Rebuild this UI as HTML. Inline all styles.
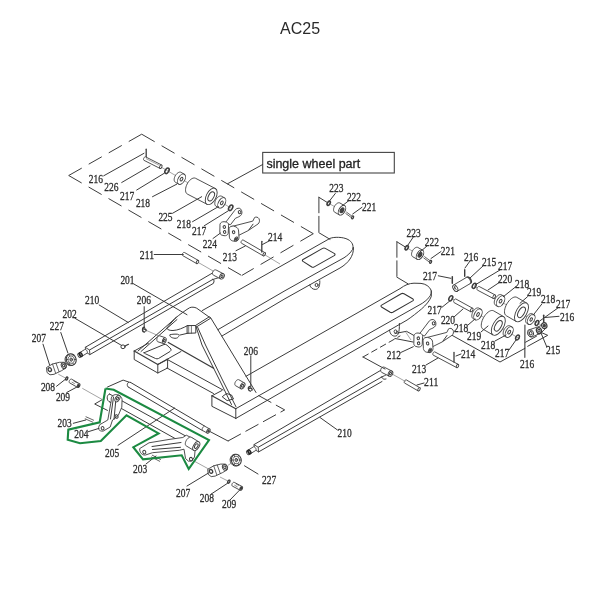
<!DOCTYPE html>
<html><head><meta charset="utf-8"><style>
html,body{margin:0;padding:0;background:#fff;}
svg{display:block;will-change:transform;filter:blur(0.3px);}
.l{fill:none;stroke:#3c3c3c;stroke-width:1;stroke-linecap:round;stroke-linejoin:round;}
.t{fill:none;stroke:#666;stroke-width:0.6;}
.d{fill:none;stroke:#3c3c3c;stroke-width:1;stroke-dasharray:15 8;}
.n{font-family:"Liberation Serif",serif;font-size:11.8px;fill:#2e2e2e;stroke:#2e2e2e;stroke-width:0.3;}
.p{fill:#fff;stroke:#3c3c3c;stroke-width:0.9;stroke-linejoin:round;}
.k{fill:#333;stroke:none;}
.g{fill:none;stroke:#1c8a42;stroke-width:2.1;stroke-linejoin:miter;}
</style></head><body>
<svg width="600" height="600" viewBox="0 0 600 600">
<rect width="600" height="600" fill="#fff"/>
<text x="280" y="34.3" font-family="Liberation Sans" font-size="16" fill="#2a2a2a">AC25</text>
<g class="d"><line x1="68.7" y1="175.5" x2="141.7" y2="134.2"/><line x1="141.7" y1="134.2" x2="313.3" y2="233.7"/><line x1="313.3" y1="233.7" x2="241.7" y2="275.5"/><line x1="68.7" y1="175.5" x2="241.7" y2="275.5"/></g>
<rect x="262.7" y="152.4" width="131.6" height="20.6" fill="#fff" stroke="#444" stroke-width="1.1"/>
<text x="266.4" y="167.6" font-family="Liberation Sans" font-size="12.5" fill="#222" stroke="#222" stroke-width="0.3">single wheel part</text>
<path class="l" d="M262.70,164.50 L227.50,183.80" />
<path class="l" d="M202.2,310.6 L330,238.39 C334,236.8 343,236.8 348,239.5 C352,241.6 354,245.5 352.5,249.5 C350.5,253 347.5,255.5 344,257.8 L325,268.3 L285,290.7 L218,329.6" />
<path class="l" d="M353.5,247.5 C353.8,256 348.5,263 340,268 L325,276.3 L285,298.7 L222,336" />
<path class="l" d="M302.6,259.8 L322.6,248.4 Q324,247.7 325.3,248.4 L334.6,253.6 Q335.6,254.6 334.2,255.6 L314.3,266.9 Q313,267.7 311.8,267 L303,261.4 Q302,260.6 302.6,259.8 Z" style="stroke-width:1.05;stroke:#333"/>
<path class="l" d="M309.7,285 C310.5,288 313,289.6 315.8,289.4 C318.5,289 320,286.5 319.8,280.8" />
<ellipse class="l" cx="316.60" cy="285.00" rx="1.50" ry="1.60" transform="rotate(0.0 316.60 285.00)" />
<path class="l" d="M246,376.28 L400,288.65 C405,285 409,283.3 414,283.2 L421,283.4 C425.5,283.8 429.5,286.5 431,290 C431.8,292.5 431,295 429,297.5 C427,299.8 425,301.5 422.3,303.3 L235.8,408.7" />
<path class="l" d="M431.3,291 L431.3,296.5 C429.5,301 426,305 421.5,309 C417.5,312.3 412,316.8 407,320.1 L235.8,418.4" />
<path class="l" d="M381.2,305.4 L401.2,293.8 Q402.6,293 404,293.8 L413,299 Q414,300 412.7,300.9 L392.8,312.3 Q391.5,313 390.2,312.3 L381.5,307 Q380.6,306.2 381.2,305.4 Z" style="stroke-width:1.05;stroke:#333"/>
<path class="l" d="M389.5,330.11 C390,334.5 392.5,336.3 395.3,336.1 C398,335.8 399.6,333 399.4,323.43" />
<ellipse class="l" cx="395.60" cy="331.50" rx="1.50" ry="1.60" transform="rotate(0.0 395.60 331.50)" />
<path class="l" d="M196.00,326.50 L202.00,345.00 L219.50,380.00 L231.50,404.50" />
<path class="l" d="M197.60,327.20 L205.50,345.00 L222.50,380.00 L236.00,406.80" />
<path class="l" d="M210.50,317.50 L256.00,392.50" />
<path class="l" d="M195.8,325.3 L209.3,316.8 M196.3,327 L210.5,318.3" style="stroke-width:1.0"/>
<path class="l" d="M166.7,328.3 L175,318.3 C180,314.5 185,310.5 189.5,307.8 C191.5,306.8 194.5,307 196.7,308.2 L209.5,317.3" />
<path class="l" d="M166.7,328.3 C167.5,330 170,330.6 173,330.5 C178,330.3 183,328 187.5,325.6" />
<path class="l" d="M187.5,325.6 L195.8,325.5 L195.8,333 L187.5,333.3 Z" />
<path class="l" d="M191.4,325.6 L191.4,333.2 M188.7,325.7 L188.7,333.3" style="stroke-width:0.7"/>
<path class="l" d="M187.5,333.3 L179.3,335.2 L177.4,334.2 C174,334 171.5,334.3 169.8,334.8 C169.5,336.5 171.5,338 175,338.3 C177,338.4 178,337.6 178.6,336.6" />
<path class="l" d="M176.30,317.50 L138.00,351.00" />
<path class="l" d="M177.00,319.50 L141.00,351.50" />
<path class="p" d="M159.76,335.85 L159.45,335.80 L159.12,335.84 L158.78,335.97 L158.44,336.18 L158.11,336.48 L157.80,336.84 L157.52,337.27 L157.28,337.74 L157.09,338.24 L156.95,338.76 L156.86,339.28 L156.84,339.79 L156.87,340.27 L156.96,340.70 L157.11,341.07 L157.31,341.38 L157.55,341.60 L157.84,341.75 L163.34,343.55 L165.26,337.65 Z" />
<ellipse class="p" cx="164.30" cy="340.60" rx="1.80" ry="3.10" transform="rotate(18.1 164.30 340.60)" />
<ellipse class="l" cx="164.30" cy="340.60" rx="0.81" ry="1.40" transform="rotate(18.1 164.30 340.60)" />
<path class="t" d="M146.30,330.40 L158.50,335.80" />
<path class="l" d="M134.20,351.00 L134.20,359.50 L157.80,373.00 L167.60,368.00 L167.60,359.30" />
<path class="l" d="M134.2,351 L157.8,364.5 L167.6,359.3" style="stroke-width:1.2"/>
<path class="l" d="M157.80,364.50 L157.80,373.00" />
<path class="l" d="M134.20,351.00 L148.50,343.20" />
<path class="l" d="M144,352.8 L164,344.5 Q166,344 167,345.2 L171,349 Q171.5,350.4 170,351.5 L158.5,358.5 Q157,359.2 155.5,358.5 L145.5,353.8 Q144,353.3 144,352.8 Z" />
<path class="l" d="M157.80,364.50 L181.00,351.50" />
<path class="l" d="M168.3,342.5 L213.6,368.3" style="stroke-width:1.3;stroke:#3a3a3a"/>
<path class="l" d="M167.00,359.30 L223.00,390.00" />
<path class="l" d="M167.00,368.00 L213.50,393.50" />
<path class="l" d="M211.90,395.80 L211.90,406.30 L235.80,418.40" />
<path class="l" d="M211.9,395.8 L235.8,408.7" style="stroke-width:1.2"/>
<path class="l" d="M235.80,408.70 L235.80,418.60" />
<path class="l" d="M211.90,395.80 L221.80,390.60" />
<path class="l" d="M222.5,396.5 L226.5,393.5 L231.5,395 L233.5,399 L227.5,400.5 Z" />
<path class="p" d="M238.89,379.75 L238.57,379.63 L238.21,379.59 L237.81,379.66 L237.40,379.81 L236.98,380.05 L236.57,380.38 L236.17,380.77 L235.81,381.22 L235.49,381.72 L235.22,382.25 L235.01,382.79 L234.87,383.32 L234.80,383.84 L234.80,384.33 L234.88,384.76 L235.02,385.14 L235.24,385.43 L235.51,385.65 L240.91,388.75 L244.29,382.85 Z" />
<ellipse class="p" cx="242.60" cy="385.80" rx="1.97" ry="3.40" transform="rotate(29.9 242.60 385.80)" />
<ellipse class="l" cx="242.60" cy="385.80" rx="0.93" ry="1.60" transform="rotate(29.9 242.60 385.80)" />
<path class="l" d="M250,386.3 C247.5,386.8 247.8,390.8 250.5,391.2 M249.5,388.3 C251.5,387.6 252.8,389.4 251.8,390.3" style="stroke-width:1.3"/>
<path class="l" d="M144.5,327.3 C142,327.5 141.8,331.8 144.5,332 M144.2,329.2 C145.5,328.6 146.8,330 145.8,331" style="stroke-width:1.4"/>
<path class="l" d="M258.70,395.60 L284.70,409.90 L228.00,441.00" style="stroke-dasharray:14 6"/>
<path class="l" d="M208.00,430.50 L228.00,441.00" />
<path class="l" d="M85.30,347.30 L213.70,272.30" />
<path class="l" d="M89.50,350.00 L212.30,279.70" />
<path class="l" d="M89.90,354.60 L213.20,283.50" />
<path class="l" d="M212.3,279.7 C214.5,279 217,278 220.3,277.3 M213.5,283 C214.5,281.5 214.3,279.8 213,279.2" />
<path class="p" d="M216.13,270.02 L215.77,269.89 L215.38,269.84 L214.98,269.87 L214.57,269.99 L214.17,270.18 L213.79,270.45 L213.44,270.78 L213.13,271.17 L212.87,271.61 L212.66,272.07 L212.53,272.55 L212.46,273.03 L212.47,273.50 L212.54,273.94 L212.68,274.34 L212.89,274.68 L213.16,274.97 L213.47,275.18 L220.67,278.88 L223.33,273.72 Z" />
<ellipse class="p" cx="222.00" cy="276.30" rx="2.17" ry="2.90" transform="rotate(27.2 222.00 276.30)" />
<ellipse class="l" cx="222.00" cy="276.30" rx="0.97" ry="1.30" transform="rotate(27.2 222.00 276.30)" />
<path class="p" d="M85.3,347.3 L89.5,350 L89.9,354.6 L85.75,352.1 Z" />
<path class="p" d="M86.93,353.23 L87.10,353.09 L87.23,352.89 L87.33,352.65 L87.37,352.37 L87.37,352.06 L87.31,351.73 L87.22,351.39 L87.08,351.05 L86.90,350.72 L86.69,350.42 L86.45,350.14 L86.19,349.90 L85.92,349.71 L85.64,349.56 L85.37,349.48 L85.12,349.45 L84.88,349.48 L84.67,349.57 L78.17,353.57 L80.43,357.23 Z" />
<ellipse class="p" cx="79.30" cy="355.40" rx="1.29" ry="2.15" transform="rotate(148.4 79.30 355.40)" />
<ellipse class="l" cx="80.70" cy="354.60" rx="1.22" ry="2.10" transform="rotate(150.0 80.70 354.60)" style="stroke-width:1.5;stroke:#222"/>
<path class="l" d="M254.00,444.60 L382.50,369.30" />
<path class="l" d="M258.20,447.30 L381.70,377.00" />
<path class="l" d="M258.60,451.90 L382.00,381.50" />
<path class="l" d="M381.7,377 C383.5,376.3 385.5,375.2 387,374.3 M386,379 C382.5,380 382.5,377.8 381.7,377" />
<path class="p" d="M384.31,367.21 L383.95,367.08 L383.57,367.03 L383.17,367.07 L382.76,367.19 L382.36,367.38 L381.98,367.66 L381.63,367.99 L381.32,368.38 L381.06,368.82 L380.86,369.28 L380.73,369.76 L380.66,370.24 L380.67,370.71 L380.75,371.15 L380.89,371.55 L381.10,371.89 L381.37,372.18 L381.69,372.39 L389.19,376.19 L391.81,371.01 Z" />
<ellipse class="p" cx="390.50" cy="373.60" rx="2.17" ry="2.90" transform="rotate(26.9 390.50 373.60)" />
<ellipse class="l" cx="390.50" cy="373.60" rx="0.97" ry="1.30" transform="rotate(26.9 390.50 373.60)" />
<path class="p" d="M254.0,444.6 L258.2,447.3 L258.6,451.90000000000003 L254.45,449.40000000000003 Z" />
<path class="p" d="M255.63,450.53 L255.80,450.39 L255.93,450.19 L256.03,449.95 L256.07,449.67 L256.07,449.36 L256.01,449.03 L255.92,448.69 L255.78,448.35 L255.60,448.02 L255.39,447.72 L255.15,447.44 L254.89,447.20 L254.62,447.01 L254.34,446.86 L254.07,446.78 L253.82,446.75 L253.58,446.78 L253.37,446.87 L246.87,450.87 L249.13,454.53 Z" />
<ellipse class="p" cx="248.00" cy="452.70" rx="1.29" ry="2.15" transform="rotate(148.4 248.00 452.70)" />
<ellipse class="l" cx="249.40" cy="451.90" rx="1.22" ry="2.10" transform="rotate(150.0 249.40 451.90)" style="stroke-width:1.5;stroke:#222"/>
<path class="t" d="M161.00,167.00 L231.00,208.00" />
<path class="l" d="M146.20,149.20 L146.20,158.00" style="stroke-width:1.3"/>
<path class="p" d="M145.66,156.90 L145.47,156.84 L145.27,156.84 L145.05,156.88 L144.83,156.98 L144.60,157.13 L144.38,157.32 L144.17,157.55 L143.98,157.82 L143.82,158.10 L143.68,158.40 L143.58,158.71 L143.52,159.02 L143.50,159.31 L143.51,159.58 L143.57,159.82 L143.66,160.02 L143.78,160.18 L143.94,160.30 L159.94,168.40 L161.66,165.00 Z" />
<ellipse class="p" cx="160.80" cy="166.70" rx="1.10" ry="1.90" transform="rotate(26.9 160.80 166.70)" />
<path class="t" d="M146.00,158.60 L159.50,165.40" />
<ellipse class="l" cx="167.00" cy="170.80" rx="1.74" ry="3.00" transform="rotate(30.0 167.00 170.80)" style="stroke-width:1.6"/>
<path class="p" d="M181.04,172.36 L180.50,172.15 L179.89,172.09 L179.23,172.20 L178.54,172.46 L177.83,172.86 L177.14,173.40 L176.48,174.06 L175.87,174.82 L175.33,175.65 L174.88,176.53 L174.53,177.44 L174.30,178.34 L174.18,179.21 L174.18,180.02 L174.30,180.75 L174.55,181.38 L174.90,181.88 L175.36,182.24 L178.66,184.14 L184.34,174.26 Z" />
<ellipse class="p" cx="181.50" cy="179.20" rx="3.31" ry="5.70" transform="rotate(29.9 181.50 179.20)" />
<ellipse class="l" cx="181.50" cy="179.20" rx="1.16" ry="2.00" transform="rotate(29.9 181.50 179.20)" />
<path class="p" d="M195.59,178.30 L194.78,178.03 L193.86,178.00 L192.87,178.23 L191.84,178.70 L190.80,179.40 L189.78,180.30 L188.81,181.38 L187.93,182.61 L187.15,183.95 L186.51,185.36 L186.02,186.79 L185.69,188.20 L185.54,189.56 L185.57,190.81 L185.78,191.92 L186.17,192.86 L186.72,193.59 L187.41,194.10 L207.11,204.30 L215.29,188.50 Z" />
<ellipse class="p" cx="211.20" cy="196.40" rx="4.90" ry="8.90" transform="rotate(27.4 211.20 196.40)" />
<ellipse class="l" cx="211.20" cy="196.40" rx="2.70" ry="4.90" transform="rotate(27.4 211.20 196.40)" />
<path class="p" d="M221.61,196.24 L221.07,196.03 L220.46,195.98 L219.80,196.09 L219.10,196.35 L218.40,196.76 L217.71,197.31 L217.06,197.97 L216.46,198.73 L215.92,199.57 L215.48,200.46 L215.14,201.36 L214.90,202.27 L214.79,203.14 L214.80,203.95 L214.93,204.68 L215.18,205.30 L215.53,205.80 L215.99,206.16 L218.99,207.86 L224.61,197.94 Z" />
<ellipse class="p" cx="221.80" cy="202.90" rx="3.31" ry="5.70" transform="rotate(29.5 221.80 202.90)" />
<ellipse class="l" cx="221.80" cy="202.90" rx="1.16" ry="2.00" transform="rotate(29.5 221.80 202.90)" />
<ellipse class="l" cx="230.70" cy="207.80" rx="1.74" ry="3.00" transform="rotate(30.0 230.70 207.80)" style="stroke-width:1.6"/>
<path class="p" d="M243.20,240.04 L243.03,239.98 L242.84,239.96 L242.63,239.99 L242.41,240.07 L242.19,240.20 L241.97,240.37 L241.76,240.58 L241.57,240.81 L241.40,241.08 L241.25,241.35 L241.14,241.64 L241.07,241.92 L241.03,242.20 L241.03,242.46 L241.07,242.69 L241.14,242.88 L241.25,243.04 L241.40,243.16 L263.30,255.86 L265.10,252.74 Z" />
<ellipse class="p" cx="264.20" cy="254.30" rx="1.04" ry="1.80" transform="rotate(30.1 264.20 254.30)" />
<path class="l" d="M261.80,241.30 L261.80,252.00" style="stroke-width:1.3"/>
<path class="t" d="M264.50,254.60 L280.00,264.00" />
<path class="p" d="M184.39,252.44 L184.22,252.37 L184.03,252.35 L183.82,252.39 L183.60,252.47 L183.38,252.60 L183.16,252.77 L182.95,252.98 L182.76,253.22 L182.59,253.48 L182.45,253.76 L182.34,254.05 L182.27,254.33 L182.23,254.61 L182.23,254.86 L182.27,255.09 L182.35,255.29 L182.46,255.45 L182.61,255.56 L196.61,263.56 L198.39,260.44 Z" />
<ellipse class="p" cx="197.50" cy="262.00" rx="1.04" ry="1.80" transform="rotate(29.7 197.50 262.00)" />
<path class="t" d="M198.00,262.30 L213.80,271.40" />
<path class="p" d="M406.40,379.94 L406.23,379.87 L406.04,379.86 L405.83,379.89 L405.61,379.97 L405.39,380.10 L405.17,380.27 L404.96,380.48 L404.77,380.72 L404.60,380.98 L404.45,381.26 L404.34,381.54 L404.27,381.83 L404.23,382.10 L404.23,382.36 L404.27,382.59 L404.34,382.79 L404.46,382.94 L404.60,383.06 L418.10,390.86 L419.90,387.74 Z" />
<ellipse class="p" cx="419.00" cy="389.30" rx="1.04" ry="1.80" transform="rotate(30.0 419.00 389.30)" />
<path class="t" d="M393.00,374.50 L405.50,381.50" />
<path class="l" d="M318.90,197.30 L318.90,232.70" style="stroke-dasharray:15.5 3.5"/>
<path class="l" d="M318.90,232.70 L330.00,239.30" />
<path class="l" d="M318.90,197.30 L327.00,202.30" />
<path class="t" d="M330.00,204.00 L337.00,208.00" />
<ellipse class="l" cx="328.70" cy="203.30" rx="1.33" ry="2.30" transform="rotate(30.0 328.70 203.30)" style="stroke-width:1.6"/>
<path class="p" d="M339.94,203.00 L339.44,202.81 L338.87,202.76 L338.25,202.85 L337.61,203.10 L336.96,203.47 L336.31,203.98 L335.70,204.59 L335.13,205.29 L334.63,206.07 L334.22,206.89 L333.89,207.73 L333.67,208.57 L333.56,209.38 L333.56,210.14 L333.68,210.81 L333.91,211.39 L334.24,211.86 L334.66,212.20 L339.36,214.90 L344.64,205.70 Z" />
<ellipse class="p" cx="342.00" cy="210.30" rx="3.07" ry="5.30" transform="rotate(29.9 342.00 210.30)" />
<ellipse class="l" cx="342.00" cy="210.30" rx="1.57" ry="2.70" transform="rotate(29.9 342.00 210.30)" />
<ellipse class="l" cx="342.00" cy="210.30" rx="0.99" ry="1.70" transform="rotate(30.0 342.00 210.30)" style="stroke-width:1.5;fill:#666"/>
<path class="l" d="M346.6,212.2 L352.3,216.4 M345.8,213.5 L351.5,217.7" style="stroke-width:0.8"/>
<ellipse class="p" cx="352.60" cy="217.40" rx="0.87" ry="1.50" transform="rotate(30.0 352.60 217.40)" style="stroke-width:1.2"/>
<path class="l" d="M396.90,241.80 L396.90,277.20" style="stroke-dasharray:15.5 3.5"/>
<path class="l" d="M396.90,277.20 L408.00,283.80" />
<path class="l" d="M396.90,241.80 L405.00,246.80" />
<path class="t" d="M408.00,248.50 L415.00,252.50" />
<ellipse class="l" cx="406.70" cy="247.80" rx="1.33" ry="2.30" transform="rotate(30.0 406.70 247.80)" style="stroke-width:1.6"/>
<path class="p" d="M417.94,247.50 L417.44,247.31 L416.87,247.26 L416.25,247.35 L415.61,247.60 L414.96,247.97 L414.31,248.48 L413.70,249.09 L413.13,249.79 L412.63,250.57 L412.22,251.39 L411.89,252.23 L411.67,253.07 L411.56,253.88 L411.56,254.64 L411.68,255.31 L411.91,255.89 L412.24,256.36 L412.66,256.70 L417.36,259.40 L422.64,250.20 Z" />
<ellipse class="p" cx="420.00" cy="254.80" rx="3.07" ry="5.30" transform="rotate(29.9 420.00 254.80)" />
<ellipse class="l" cx="420.00" cy="254.80" rx="1.57" ry="2.70" transform="rotate(29.9 420.00 254.80)" />
<ellipse class="l" cx="420.00" cy="254.80" rx="0.99" ry="1.70" transform="rotate(30.0 420.00 254.80)" style="stroke-width:1.5;fill:#666"/>
<path class="l" d="M424.6,256.7 L430.3,260.9 M423.8,258.0 L429.5,262.2" style="stroke-width:0.8"/>
<ellipse class="p" cx="430.60" cy="261.90" rx="0.87" ry="1.50" transform="rotate(30.0 430.60 261.90)" style="stroke-width:1.2"/>
<path class="t" d="M474.00,286.00 L541.00,325.00" />
<path class="t" d="M451.00,298.00 L520.00,339.00" />
<path class="l" d="M452.30,276.70 L452.30,283.30" style="stroke-width:1.5"/>
<ellipse class="p" cx="468.80" cy="280.20" rx="1.97" ry="3.40" transform="rotate(-30.0 468.80 280.20)" style="stroke-width:1.5"/>
<ellipse class="l" cx="468.80" cy="280.20" rx="0.75" ry="1.30" transform="rotate(-30.0 468.80 280.20)" />
<path class="p" d="M469.83,283.80 L470.11,283.57 L470.34,283.25 L470.48,282.85 L470.56,282.39 L470.55,281.88 L470.47,281.33 L470.32,280.76 L470.09,280.19 L469.80,279.64 L469.45,279.12 L469.06,278.64 L468.64,278.23 L468.20,277.89 L467.75,277.64 L467.31,277.48 L466.89,277.42 L466.51,277.46 L466.17,277.60 L453.47,285.10 L457.13,291.30 Z" />
<ellipse class="p" cx="455.30" cy="288.20" rx="2.09" ry="3.60" transform="rotate(149.4 455.30 288.20)" />
<path class="l" d="M454.2,286.5 L456.3,289.8 M455.3,285.8 L453.8,289.3" style="stroke-width:0.8"/>
<path class="l" d="M464.70,269.70 L464.70,276.30" style="stroke-width:1.4"/>
<ellipse class="l" cx="474.20" cy="285.80" rx="1.62" ry="2.80" transform="rotate(30.0 474.20 285.80)" style="stroke-width:1.5"/>
<path class="p" d="M479.23,286.53 L479.04,286.46 L478.83,286.45 L478.60,286.50 L478.36,286.60 L478.11,286.75 L477.88,286.95 L477.66,287.19 L477.45,287.46 L477.27,287.76 L477.13,288.07 L477.02,288.40 L476.94,288.71 L476.91,289.02 L476.93,289.31 L476.98,289.56 L477.07,289.78 L477.20,289.95 L477.37,290.07 L493.27,298.47 L495.13,294.93 Z" />
<ellipse class="p" cx="494.20" cy="296.70" rx="1.16" ry="2.00" transform="rotate(27.8 494.20 296.70)" />
<path class="p" d="M501.48,294.79 L500.91,294.57 L500.26,294.51 L499.57,294.63 L498.84,294.90 L498.10,295.33 L497.37,295.90 L496.68,296.60 L496.04,297.40 L495.48,298.27 L495.01,299.20 L494.64,300.16 L494.39,301.11 L494.27,302.03 L494.28,302.88 L494.41,303.65 L494.67,304.30 L495.04,304.83 L495.52,305.21 L497.62,306.41 L503.58,295.99 Z" />
<ellipse class="p" cx="500.60" cy="301.20" rx="3.48" ry="6.00" transform="rotate(29.7 500.60 301.20)" />
<ellipse class="l" cx="500.60" cy="301.20" rx="1.16" ry="2.00" transform="rotate(29.7 500.60 301.20)" />
<path class="p" d="M516.82,297.33 L515.94,297.01 L514.93,296.97 L513.81,297.23 L512.63,297.77 L511.41,298.57 L510.19,299.61 L509.01,300.87 L507.91,302.29 L506.92,303.84 L506.06,305.47 L505.37,307.14 L504.87,308.78 L504.57,310.36 L504.48,311.81 L504.60,313.11 L504.93,314.21 L505.47,315.07 L506.18,315.67 L516.18,321.47 L526.82,303.13 Z" />
<ellipse class="p" cx="521.50" cy="312.30" rx="5.30" ry="10.60" transform="rotate(30.1 521.50 312.30)" />
<ellipse class="l" cx="521.50" cy="312.30" rx="2.90" ry="5.80" transform="rotate(30.1 521.50 312.30)" />
<path class="p" d="M532.29,313.76 L531.77,313.55 L531.18,313.49 L530.54,313.59 L529.87,313.83 L529.19,314.21 L528.51,314.73 L527.87,315.36 L527.28,316.08 L526.75,316.88 L526.31,317.73 L525.96,318.60 L525.72,319.47 L525.60,320.31 L525.60,321.09 L525.71,321.80 L525.94,322.40 L526.28,322.89 L526.71,323.24 L528.41,324.24 L533.99,314.76 Z" />
<ellipse class="p" cx="531.20" cy="319.50" rx="3.19" ry="5.50" transform="rotate(30.5 531.20 319.50)" />
<ellipse class="l" cx="531.20" cy="319.50" rx="1.04" ry="1.80" transform="rotate(30.5 531.20 319.50)" />
<ellipse class="l" cx="537.00" cy="323.00" rx="1.51" ry="2.60" transform="rotate(30.0 537.00 323.00)" style="stroke-width:1.5"/>
<path class="l" d="M543.70,315.30 L543.70,324.50" style="stroke-width:1.5"/>
<path class="p" d="M528,330.2 L539,326.5 L544,324.3 L546.5,327.5 L541,333 L532,337 C529,337.6 527,334 528,330.2 Z" />
<ellipse class="p" cx="530.70" cy="333.30" rx="2.90" ry="3.40" transform="rotate(-20.0 530.70 333.30)" />
<ellipse class="l" cx="530.70" cy="333.30" rx="1.40" ry="1.70" transform="rotate(-20.0 530.70 333.30)" />
<ellipse class="p" cx="544.30" cy="325.60" rx="2.60" ry="2.90" transform="rotate(-20.0 544.30 325.60)" style="stroke-width:1.2"/>
<ellipse class="l" cx="544.30" cy="325.60" rx="1.10" ry="1.30" transform="rotate(-20.0 544.30 325.60)" style="fill:#444"/>
<ellipse class="p" cx="539.00" cy="330.70" rx="2.50" ry="3.00" transform="rotate(-20.0 539.00 330.70)" style="stroke-width:1.3"/>
<ellipse class="l" cx="539.00" cy="330.70" rx="1.10" ry="1.30" transform="rotate(-20.0 539.00 330.70)" />
<path class="l" d="M525.00,342.50 L536.50,336.20" />
<path class="l" d="M527.70,346.30 L547.70,335.30 L541.70,332.70" />
<ellipse class="l" cx="450.80" cy="298.30" rx="1.62" ry="2.80" transform="rotate(30.0 450.80 298.30)" style="stroke-width:1.5"/>
<path class="p" d="M455.97,299.05 L455.77,298.98 L455.56,298.96 L455.33,299.00 L455.09,299.10 L454.84,299.25 L454.60,299.44 L454.38,299.67 L454.17,299.94 L453.98,300.24 L453.83,300.55 L453.72,300.87 L453.64,301.19 L453.60,301.50 L453.61,301.78 L453.66,302.04 L453.75,302.25 L453.87,302.43 L454.03,302.55 L470.73,311.75 L472.67,308.25 Z" />
<ellipse class="p" cx="471.70" cy="310.00" rx="1.16" ry="2.00" transform="rotate(28.9 471.70 310.00)" />
<path class="p" d="M478.89,308.14 L478.32,307.93 L477.67,307.89 L476.98,308.01 L476.26,308.29 L475.52,308.74 L474.81,309.32 L474.12,310.03 L473.50,310.84 L472.95,311.72 L472.49,312.66 L472.15,313.62 L471.91,314.58 L471.81,315.49 L471.82,316.35 L471.97,317.11 L472.24,317.77 L472.62,318.29 L473.11,318.66 L475.11,319.76 L480.89,309.24 Z" />
<ellipse class="p" cx="478.00" cy="314.50" rx="3.48" ry="6.00" transform="rotate(28.8 478.00 314.50)" />
<ellipse class="l" cx="478.00" cy="314.50" rx="1.16" ry="2.00" transform="rotate(28.8 478.00 314.50)" />
<path class="p" d="M493.62,310.83 L492.74,310.51 L491.73,310.47 L490.61,310.73 L489.43,311.27 L488.21,312.07 L486.99,313.11 L485.81,314.37 L484.71,315.79 L483.72,317.34 L482.86,318.97 L482.17,320.64 L481.67,322.28 L481.37,323.86 L481.28,325.31 L481.40,326.61 L481.73,327.71 L482.27,328.57 L482.98,329.17 L492.98,334.97 L503.62,316.63 Z" />
<ellipse class="p" cx="498.30" cy="325.80" rx="5.30" ry="10.60" transform="rotate(30.1 498.30 325.80)" />
<ellipse class="l" cx="498.30" cy="325.80" rx="2.90" ry="5.80" transform="rotate(30.1 498.30 325.80)" />
<path class="p" d="M510.00,325.92 L509.44,325.71 L508.82,325.67 L508.15,325.79 L507.45,326.06 L506.74,326.49 L506.04,327.05 L505.39,327.74 L504.78,328.52 L504.25,329.38 L503.81,330.29 L503.47,331.21 L503.25,332.14 L503.15,333.02 L503.16,333.85 L503.31,334.59 L503.57,335.22 L503.94,335.72 L504.40,336.08 L506.40,337.18 L512.00,327.02 Z" />
<ellipse class="p" cx="509.20" cy="332.10" rx="3.36" ry="5.80" transform="rotate(28.8 509.20 332.10)" />
<ellipse class="l" cx="509.20" cy="332.10" rx="1.16" ry="2.00" transform="rotate(28.8 509.20 332.10)" />
<ellipse class="l" cx="517.50" cy="337.50" rx="1.51" ry="2.60" transform="rotate(30.0 517.50 337.50)" style="stroke-width:1.5"/>
<path class="l" d="M524.90,325.10 L524.80,357.30" style="stroke-width:1.4;stroke:#666"/>
<path class="l" d="M452.00,335.30 L500.00,362.00 L525.00,348.30" />
<path class="l" d="M363.00,357.00 L400.00,336.00" style="stroke-dasharray:6 4"/>
<path class="l" d="M363.00,357.00 L385.00,369.00" />
<path class="l" d="M395,333.5 L406.5,331.3 L414,335.5 M395,338.5 L413,342" />
<path class="p" d="M419.00,334.50 L428.50,322.00 C429.50,320.20 431.50,319.20 433.50,319.60 C435.60,320.30 436.50,323.30 435.60,325.60 C434.50,327.80 431.50,328.60 429.50,329.50 L424.50,336.00 Z" />
<ellipse class="l" cx="433.60" cy="323.40" rx="1.30" ry="1.60" transform="rotate(-20.0 433.60 323.40)" />
<path class="p" d="M425.00,338.00 L446.80,332.40 L448.60,328.80 C450.00,328.00 452.00,328.30 453.00,330.00 C454.00,332.00 453.40,334.20 452.00,335.30 L442.00,342.00 L432.00,347.00 Z" />
<path class="l" d="M447.00,335.50 L443.00,341.00" />
<path class="p" d="M414.00,335.50 C414.50,333.80 416.00,333.00 418.00,333.00 L420.50,333.40 C422.00,334.00 422.70,335.00 422.60,336.50 L422.20,344.60 C421.80,346.30 420.00,347.30 418.00,347.00 L415.20,346.20 C414.20,345.50 413.80,344.50 413.80,343.50 Z" />
<ellipse class="l" cx="418.30" cy="338.30" rx="1.20" ry="1.40" transform="rotate(-20.0 418.30 338.30)" />
<ellipse class="l" cx="418.60" cy="343.30" rx="1.20" ry="1.40" transform="rotate(-20.0 418.60 343.30)" />
<path class="p" d="M423.00,340.00 C423.50,338.00 425.50,337.20 427.50,337.40 L430.00,338.20 C431.80,339.20 432.50,340.50 432.60,342.30 L433.00,348.50 C433.00,351.00 431.50,352.60 429.50,352.60 L426.50,352.20 C424.50,351.60 423.50,350.00 423.40,348.50 Z" />
<ellipse class="l" cx="427.60" cy="343.50" rx="1.20" ry="1.50" transform="rotate(-20.0 427.60 343.50)" />
<ellipse class="p" cx="430.00" cy="350.30" rx="1.33" ry="2.30" transform="rotate(30.0 430.00 350.30)" />
<ellipse class="l" cx="430.00" cy="350.30" rx="0.64" ry="1.10" transform="rotate(30.0 430.00 350.30)" />
<path class="p" d="M225.00,223.20 L234.50,210.70 C235.50,208.90 237.50,207.90 239.50,208.30 C241.60,209.00 242.50,212.00 241.60,214.30 C240.50,216.50 237.50,217.30 235.50,218.20 L230.50,224.70 Z" />
<ellipse class="l" cx="239.60" cy="212.10" rx="1.30" ry="1.60" transform="rotate(-20.0 239.60 212.10)" />
<path class="p" d="M231.00,226.70 L252.80,221.10 L254.60,217.50 C256.00,216.70 258.00,217.00 259.00,218.70 C260.00,220.70 259.40,222.90 258.00,224.00 L248.00,230.70 L238.00,235.70 Z" />
<path class="l" d="M253.00,224.20 L249.00,229.70" />
<path class="p" d="M220.00,224.20 C220.50,222.50 222.00,221.70 224.00,221.70 L226.50,222.10 C228.00,222.70 228.70,223.70 228.60,225.20 L228.20,233.30 C227.80,235.00 226.00,236.00 224.00,235.70 L221.20,234.90 C220.20,234.20 219.80,233.20 219.80,232.20 Z" />
<ellipse class="l" cx="224.30" cy="227.00" rx="1.20" ry="1.40" transform="rotate(-20.0 224.30 227.00)" />
<ellipse class="l" cx="224.60" cy="232.00" rx="1.20" ry="1.40" transform="rotate(-20.0 224.60 232.00)" />
<path class="p" d="M229.00,228.70 C229.50,226.70 231.50,225.90 233.50,226.10 L236.00,226.90 C237.80,227.90 238.50,229.20 238.60,231.00 L239.00,237.20 C239.00,239.70 237.50,241.30 235.50,241.30 L232.50,240.90 C230.50,240.30 229.50,238.70 229.40,237.20 Z" />
<ellipse class="l" cx="233.60" cy="232.20" rx="1.20" ry="1.50" transform="rotate(-20.0 233.60 232.20)" />
<ellipse class="p" cx="236.00" cy="239.00" rx="1.33" ry="2.30" transform="rotate(30.0 236.00 239.00)" />
<ellipse class="l" cx="236.00" cy="239.00" rx="0.64" ry="1.10" transform="rotate(30.0 236.00 239.00)" />
<path class="p" d="M434.85,351.91 L434.67,351.85 L434.48,351.84 L434.27,351.88 L434.06,351.97 L433.84,352.10 L433.62,352.28 L433.42,352.50 L433.24,352.74 L433.08,353.01 L432.95,353.29 L432.84,353.58 L432.78,353.87 L432.75,354.15 L432.76,354.40 L432.81,354.63 L432.89,354.83 L433.01,354.98 L433.15,355.09 L456.65,367.59 L458.35,364.41 Z" />
<ellipse class="p" cx="457.50" cy="366.00" rx="1.04" ry="1.80" transform="rotate(28.0 457.50 366.00)" />
<path class="l" d="M454.00,352.50 L454.00,362.00" style="stroke-width:1.3"/>
<path class="t" d="M405.00,331.00 L411.00,340.00" />
<path class="l" d="M130.5,382.4 L205,426.3 M128.2,387 L202.7,430.7" />
<path class="l" d="M130.5,382.4 C127.5,381 126,385.5 128.2,387" />
<path class="p" d="M205.07,426.40 L204.83,426.31 L204.56,426.29 L204.28,426.33 L203.98,426.44 L203.68,426.62 L203.39,426.85 L203.12,427.13 L202.86,427.45 L202.64,427.80 L202.46,428.18 L202.32,428.56 L202.23,428.94 L202.19,429.31 L202.20,429.66 L202.26,429.97 L202.37,430.23 L202.53,430.44 L202.73,430.60 L207.23,433.10 L209.57,428.90 Z" />
<ellipse class="p" cx="208.40" cy="431.00" rx="1.44" ry="2.40" transform="rotate(29.1 208.40 431.00)" />
<ellipse class="l" cx="208.40" cy="431.00" rx="0.58" ry="1.00" transform="rotate(30.0 208.40 431.00)" />
<path class="l" d="M109.5,394 L192,439.5 M109.8,402 L188.5,446" />
<path class="l" d="M109.5,394 C106.5,394.5 106,401 109.8,402" />
<path class="p" d="M111.3,400.2 C110.5,397 113,394.5 116.5,394.5 C120,394.8 122.5,397.5 122,401 L121.8,407.2 L118.3,415.3 L112.5,420 L110.2,427 L103.2,431.1 C100.5,431.5 98,430 98.5,427.5 L99.7,424.7 L107.8,420 Z" />
<path class="l" d="M113.5,397 L110.5,419 M116,398 L114,419.5" />
<ellipse class="l" cx="102.60" cy="428.20" rx="1.40" ry="1.70" transform="rotate(-20.0 102.60 428.20)" />
<ellipse class="l" cx="116.60" cy="416.50" rx="1.50" ry="1.80" transform="rotate(-20.0 116.60 416.50)" />
<ellipse class="p" cx="117.50" cy="398.60" rx="2.09" ry="3.60" transform="rotate(30.0 117.50 398.60)" />
<ellipse class="l" cx="117.50" cy="398.60" rx="0.93" ry="1.60" transform="rotate(30.0 117.50 398.60)" />
<path class="p" d="M139.7,448.6 L149,442.8 L170,439.3 L182.8,437.5 L186.3,435.2 L193,438.5 L197.5,442.5 L197.8,447.5 L195,451 L194.5,457 L192,460.8 L188.5,461.2 L185.5,458.5 L184,449.2 L179.3,450.3 L152.5,452.7 L145.5,455 C142.5,455.5 139.5,453 139.7,448.6 Z" />
<path class="l" d="M152,446.5 L181,442.5 M152.5,449.5 L180.5,447.3" />
<ellipse class="l" cx="144.30" cy="452.10" rx="1.50" ry="1.80" transform="rotate(-20.0 144.30 452.10)" />
<ellipse class="l" cx="191.00" cy="459.20" rx="1.50" ry="1.80" transform="rotate(-20.0 191.00 459.20)" />
<path class="p" d="M191.37,437.31 L190.92,437.13 L190.41,437.09 L189.85,437.18 L189.25,437.41 L188.65,437.76 L188.04,438.23 L187.46,438.80 L186.92,439.46 L186.44,440.19 L186.03,440.95 L185.70,441.74 L185.47,442.52 L185.34,443.27 L185.31,443.97 L185.39,444.61 L185.58,445.14 L185.86,445.58 L186.23,445.89 L193.73,450.39 L198.87,441.81 Z" />
<ellipse class="p" cx="196.30" cy="446.10" rx="2.75" ry="5.00" transform="rotate(31.0 196.30 446.10)" />
<ellipse class="l" cx="196.30" cy="446.10" rx="1.43" ry="2.60" transform="rotate(31.0 196.30 446.10)" />
<path class="l" d="M86,416.8 L93.6,420.2 M85.2,418.8 L92.8,422.2" style="stroke-width:0.8"/>
<path class="l" d="M152.3,455.2 L160.5,459.5 M151.5,457 L159.7,461.3" style="stroke-width:0.8"/>
<path class="l" d="M102.00,399.80 L94.70,404.00 L107.50,410.40" />
<path class="l" d="M107.50,387.00 L123.10,380.10 L128.60,382.00" />
<path class="t" d="M82.30,388.30 L102.00,399.40" />
<ellipse class="l" cx="123.00" cy="346.80" rx="2.10" ry="1.90" transform="rotate(0.0 123.00 346.80)" />
<path class="l" d="M125.00,346.00 L128.50,344.30" style="stroke-width:1.2"/>
<ellipse class="p" cx="70.00" cy="359.90" rx="4.90" ry="5.80" transform="rotate(-15.0 70.00 359.90)" />
<ellipse class="p" cx="71.20" cy="359.60" rx="4.90" ry="5.80" transform="rotate(-15.0 71.20 359.60)" style="stroke-width:1.1"/>
<ellipse class="l" cx="71.20" cy="359.60" rx="3.10" ry="3.80" transform="rotate(-15.0 71.20 359.60)" style="stroke-width:0.8;stroke-dasharray:1.6 1.1"/>
<ellipse class="l" cx="71.20" cy="359.60" rx="1.30" ry="1.70" transform="rotate(-15.0 71.20 359.60)" style="fill:#999;stroke-width:0.8"/>
<path class="l" d="M74.50,359.60 L75.90,359.60" style="stroke-width:0.9"/>
<path class="l" d="M72.85,363.06 L73.55,364.45" style="stroke-width:0.9"/>
<path class="l" d="M69.55,363.06 L68.85,364.45" style="stroke-width:0.9"/>
<path class="l" d="M67.90,359.60 L66.50,359.60" style="stroke-width:0.9"/>
<path class="l" d="M69.55,356.14 L68.85,354.75" style="stroke-width:0.9"/>
<path class="l" d="M72.85,356.14 L73.55,354.75" style="stroke-width:0.9"/>
<ellipse class="p" cx="235.10" cy="460.30" rx="4.90" ry="5.80" transform="rotate(-15.0 235.10 460.30)" />
<ellipse class="p" cx="236.30" cy="460.00" rx="4.90" ry="5.80" transform="rotate(-15.0 236.30 460.00)" style="stroke-width:1.1"/>
<ellipse class="l" cx="236.30" cy="460.00" rx="3.10" ry="3.80" transform="rotate(-15.0 236.30 460.00)" style="stroke-width:0.8;stroke-dasharray:1.6 1.1"/>
<ellipse class="l" cx="236.30" cy="460.00" rx="1.30" ry="1.70" transform="rotate(-15.0 236.30 460.00)" style="fill:#999;stroke-width:0.8"/>
<path class="l" d="M239.60,460.00 L241.00,460.00" style="stroke-width:0.9"/>
<path class="l" d="M237.95,463.46 L238.65,464.85" style="stroke-width:0.9"/>
<path class="l" d="M234.65,463.46 L233.95,464.85" style="stroke-width:0.9"/>
<path class="l" d="M233.00,460.00 L231.60,460.00" style="stroke-width:0.9"/>
<path class="l" d="M234.65,456.54 L233.95,455.15" style="stroke-width:0.9"/>
<path class="l" d="M237.95,456.54 L238.65,455.15" style="stroke-width:0.9"/>
<path class="p" d="M46.5,367.5 L52.5,364 L59.5,362.3 L64.5,362.3 L66.5,365 L66,368 L61.5,370.7 L54,374.3 L50,374.8 L47,372.5 Z" />
<ellipse class="p" cx="63.60" cy="365.60" rx="2.30" ry="2.90" transform="rotate(-25.0 63.60 365.60)" />
<ellipse class="l" cx="63.60" cy="365.60" rx="1.10" ry="1.40" transform="rotate(-25.0 63.60 365.60)" />
<path class="l" d="M52.5,364 L55.5,372.8 M56,363.2 L59,371.5" style="stroke-width:0.8"/>
<ellipse class="l" cx="49.80" cy="369.60" rx="1.60" ry="1.90" transform="rotate(-25.0 49.80 369.60)" style="stroke-width:1.3"/>
<path class="p" d="M207.7,469.3 L213.7,465.8 L220.7,464.1 L225.7,464.1 L227.7,466.8 L227.2,469.8 L222.7,472.5 L215.2,476.1 L211.2,476.6 L208.2,474.3 Z" />
<ellipse class="p" cx="224.80" cy="467.40" rx="2.30" ry="2.90" transform="rotate(-25.0 224.80 467.40)" />
<ellipse class="l" cx="224.80" cy="467.40" rx="1.10" ry="1.40" transform="rotate(-25.0 224.80 467.40)" />
<path class="l" d="M213.7,465.8 L216.7,474.6 M217.2,465.0 L220.2,473.3" style="stroke-width:0.8"/>
<ellipse class="l" cx="211.00" cy="471.40" rx="1.60" ry="1.90" transform="rotate(-25.0 211.00 471.40)" style="stroke-width:1.3"/>
<ellipse class="l" cx="66.70" cy="378.60" rx="0.93" ry="1.60" transform="rotate(30.0 66.70 378.60)" style="stroke-width:1.4"/>
<path class="p" d="M71.65,379.18 L71.45,379.10 L71.22,379.08 L70.98,379.12 L70.72,379.22 L70.46,379.36 L70.21,379.56 L69.97,379.81 L69.74,380.09 L69.54,380.39 L69.38,380.72 L69.25,381.05 L69.16,381.38 L69.12,381.71 L69.12,382.00 L69.17,382.27 L69.26,382.50 L69.39,382.69 L69.55,382.82 L77.55,387.42 L79.65,383.78 Z" />
<ellipse class="p" cx="78.60" cy="385.60" rx="1.22" ry="2.10" transform="rotate(29.9 78.60 385.60)" />
<ellipse class="l" cx="78.60" cy="385.60" rx="0.58" ry="1.00" transform="rotate(30.0 78.60 385.60)" style="stroke-width:1.3"/>
<path class="l" d="M72,382.2 L74.5,383.6 M73.5,380.8 L76,382.2 M75,381.5 L77.5,383" style="stroke-width:0.6"/>
<ellipse class="l" cx="228.80" cy="481.70" rx="0.99" ry="1.70" transform="rotate(30.0 228.80 481.70)" style="stroke-width:1.4"/>
<path class="p" d="M234.29,482.35 L234.08,482.27 L233.86,482.26 L233.62,482.31 L233.36,482.41 L233.11,482.57 L232.86,482.78 L232.63,483.03 L232.41,483.31 L232.22,483.63 L232.07,483.96 L231.95,484.30 L231.88,484.63 L231.84,484.95 L231.85,485.25 L231.91,485.52 L232.01,485.75 L232.14,485.93 L232.31,486.05 L240.21,490.25 L242.19,486.55 Z" />
<ellipse class="p" cx="241.20" cy="488.40" rx="1.22" ry="2.10" transform="rotate(28.0 241.20 488.40)" />
<ellipse class="l" cx="241.20" cy="488.40" rx="0.58" ry="1.00" transform="rotate(30.0 241.20 488.40)" style="stroke-width:1.3"/>
<path class="l" d="M234.7,485.3 L237.2,486.7 M236.2,484 L238.7,485.4" style="stroke-width:0.6"/>
<path class="t" d="M58.30,374.20 L65.30,377.90" />
<path class="t" d="M66.50,363.50 L69.00,362.30" />
<path class="t" d="M194.00,461.00 L209.50,469.50" />
<path class="t" d="M227.80,465.40 L231.70,462.90" />
<path class="t" d="M220.00,477.00 L227.50,480.80" />
<path class="l" d="M103.70,175.80 L144.00,153.30" />
<path class="l" d="M121.70,182.50 L150.00,166.00" />
<path class="l" d="M136.70,190.00 L164.20,173.30" />
<path class="l" d="M152.50,196.70 L176.70,184.20" />
<path class="l" d="M172.50,213.30 L201.70,196.70" />
<path class="l" d="M192.50,221.70 L218.30,206.70" />
<path class="l" d="M204.20,225.80 L228.30,210.80" />
<path class="l" d="M213.00,238.50 L220.50,233.00" />
<path class="l" d="M236.00,250.70 L245.30,246.00" />
<path class="l" d="M269.00,241.00 L262.50,244.50" />
<path class="l" d="M154.20,254.50 L183.30,254.50" />
<path class="l" d="M134.20,284.20 L187.00,314.70" />
<path class="l" d="M99.20,305.00 L128.30,322.50" />
<path class="l" d="M144.20,306.70 L144.20,326.70" />
<path class="l" d="M75.00,318.30 L121.70,345.50" />
<path class="l" d="M60.80,332.50 L67.90,353.00" />
<path class="l" d="M43.00,344.20 L49.60,365.00" />
<path class="l" d="M56.50,386.30 L65.00,379.60" />
<path class="l" d="M66.70,392.50 L77.50,386.70" />
<path class="l" d="M73.30,423.30 L85.80,420.00" />
<path class="l" d="M88.30,431.70 L99.20,428.30" />
<path class="l" d="M118.00,445.30 L174.70,408.00" />
<path class="l" d="M146.00,464.00 L156.00,456.00" />
<path class="l" d="M250.80,355.80 L250.80,387.50" />
<path class="l" d="M337.50,430.00 L320.00,417.50" />
<path class="l" d="M258.00,474.00 L244.50,465.80" />
<path class="l" d="M187.00,486.00 L208.50,473.00" />
<path class="l" d="M211.00,494.20 L227.50,483.30" />
<path class="l" d="M230.00,500.00 L239.50,490.20" />
<path class="l" d="M335.30,193.50 L328.70,202.00" />
<path class="l" d="M348.70,200.70 L342.00,206.00" />
<path class="l" d="M362.00,207.30 L352.70,214.00" />
<path class="l" d="M413.30,237.00 L407.30,246.00" />
<path class="l" d="M427.00,246.00 L420.00,252.00" />
<path class="l" d="M441.00,251.50 L431.00,258.50" />
<path class="l" d="M438.30,275.80 L450.80,278.30" />
<path class="l" d="M441.70,307.50 L450.00,300.80" />
<path class="l" d="M454.00,317.00 L463.00,309.00" />
<path class="l" d="M400.80,352.50 L413.30,346.70" />
<path class="l" d="M426.00,365.00 L438.00,358.00" />
<path class="l" d="M424.00,383.00 L417.00,385.00" />
<path class="l" d="M461.00,354.00 L456.00,356.00" />
<path class="l" d="M470.00,261.00 L465.00,268.00" />
<path class="l" d="M483.00,266.00 L470.00,278.00" />
<path class="l" d="M500.00,270.00 L475.00,285.00" />
<path class="l" d="M500.00,282.00 L488.00,290.00" />
<path class="l" d="M515.80,286.70 L503.30,296.70" />
<path class="l" d="M527.50,296.70 L520.00,303.30" />
<path class="l" d="M541.70,304.20 L533.30,315.00" />
<path class="l" d="M557.50,308.30 L540.00,320.80" />
<path class="l" d="M559.00,316.30 L545.00,317.50" />
<path class="l" d="M546.70,346.70 L540.80,332.50" />
<path class="l" d="M468.00,325.00 L475.00,319.00" />
<path class="l" d="M481.00,332.00 L488.00,326.00" />
<path class="l" d="M495.00,341.00 L506.00,335.00" />
<path class="l" d="M509.00,350.00 L516.00,340.00" />
<text class="n" x="88.8" y="183.4" textLength="14.2" lengthAdjust="spacingAndGlyphs">216</text>
<text class="n" x="104.3" y="191.0" textLength="14.2" lengthAdjust="spacingAndGlyphs">226</text>
<text class="n" x="120.1" y="200.2" textLength="14.2" lengthAdjust="spacingAndGlyphs">217</text>
<text class="n" x="135.9" y="207.2" textLength="14.2" lengthAdjust="spacingAndGlyphs">218</text>
<text class="n" x="158.4" y="220.9" textLength="14.2" lengthAdjust="spacingAndGlyphs">225</text>
<text class="n" x="176.8" y="228.1" textLength="14.2" lengthAdjust="spacingAndGlyphs">218</text>
<text class="n" x="192.1" y="235.1" textLength="14.2" lengthAdjust="spacingAndGlyphs">217</text>
<text class="n" x="202.8" y="248.0" textLength="14.2" lengthAdjust="spacingAndGlyphs">224</text>
<text class="n" x="222.8" y="261.0" textLength="14.2" lengthAdjust="spacingAndGlyphs">213</text>
<text class="n" x="268.1" y="240.7" textLength="14.2" lengthAdjust="spacingAndGlyphs">214</text>
<text class="n" x="139.8" y="259.2" textLength="14.2" lengthAdjust="spacingAndGlyphs">211</text>
<text class="n" x="120.4" y="284.2" textLength="14.2" lengthAdjust="spacingAndGlyphs">201</text>
<text class="n" x="85.1" y="304.4" textLength="14.2" lengthAdjust="spacingAndGlyphs">210</text>
<text class="n" x="136.8" y="304.2" textLength="14.2" lengthAdjust="spacingAndGlyphs">206</text>
<text class="n" x="62.6" y="317.8" textLength="14.2" lengthAdjust="spacingAndGlyphs">202</text>
<text class="n" x="49.8" y="329.6" textLength="14.2" lengthAdjust="spacingAndGlyphs">227</text>
<text class="n" x="31.8" y="341.6" textLength="14.2" lengthAdjust="spacingAndGlyphs">207</text>
<text class="n" x="40.9" y="390.8" textLength="14.2" lengthAdjust="spacingAndGlyphs">208</text>
<text class="n" x="55.9" y="400.8" textLength="14.2" lengthAdjust="spacingAndGlyphs">209</text>
<text class="n" x="57.6" y="426.7" textLength="14.2" lengthAdjust="spacingAndGlyphs">203</text>
<text class="n" x="74.3" y="438.4" textLength="14.2" lengthAdjust="spacingAndGlyphs">204</text>
<text class="n" x="105.1" y="456.7" textLength="14.2" lengthAdjust="spacingAndGlyphs">205</text>
<text class="n" x="133.1" y="472.9" textLength="14.2" lengthAdjust="spacingAndGlyphs">203</text>
<text class="n" x="243.8" y="354.5" textLength="14.2" lengthAdjust="spacingAndGlyphs">206</text>
<text class="n" x="337.6" y="436.9" textLength="14.2" lengthAdjust="spacingAndGlyphs">210</text>
<text class="n" x="262.1" y="484.0" textLength="14.2" lengthAdjust="spacingAndGlyphs">227</text>
<text class="n" x="176.1" y="496.8" textLength="14.2" lengthAdjust="spacingAndGlyphs">207</text>
<text class="n" x="199.7" y="502.4" textLength="14.2" lengthAdjust="spacingAndGlyphs">208</text>
<text class="n" x="222.1" y="507.6" textLength="14.2" lengthAdjust="spacingAndGlyphs">209</text>
<text class="n" x="329.3" y="191.8" textLength="14.2" lengthAdjust="spacingAndGlyphs">223</text>
<text class="n" x="346.9" y="201.0" textLength="14.2" lengthAdjust="spacingAndGlyphs">222</text>
<text class="n" x="362.1" y="211.0" textLength="14.2" lengthAdjust="spacingAndGlyphs">221</text>
<text class="n" x="406.6" y="236.6" textLength="14.2" lengthAdjust="spacingAndGlyphs">223</text>
<text class="n" x="424.8" y="245.7" textLength="14.2" lengthAdjust="spacingAndGlyphs">222</text>
<text class="n" x="440.8" y="254.6" textLength="14.2" lengthAdjust="spacingAndGlyphs">221</text>
<text class="n" x="464.1" y="261.0" textLength="14.2" lengthAdjust="spacingAndGlyphs">216</text>
<text class="n" x="482.1" y="266.4" textLength="14.2" lengthAdjust="spacingAndGlyphs">215</text>
<text class="n" x="498.1" y="270.4" textLength="14.2" lengthAdjust="spacingAndGlyphs">217</text>
<text class="n" x="422.9" y="280.4" textLength="14.2" lengthAdjust="spacingAndGlyphs">217</text>
<text class="n" x="498.1" y="283.4" textLength="14.2" lengthAdjust="spacingAndGlyphs">220</text>
<text class="n" x="515.1" y="287.9" textLength="14.2" lengthAdjust="spacingAndGlyphs">218</text>
<text class="n" x="527.1" y="295.9" textLength="14.2" lengthAdjust="spacingAndGlyphs">219</text>
<text class="n" x="541.1" y="303.4" textLength="14.2" lengthAdjust="spacingAndGlyphs">218</text>
<text class="n" x="556.1" y="307.6" textLength="14.2" lengthAdjust="spacingAndGlyphs">217</text>
<text class="n" x="427.6" y="313.7" textLength="14.2" lengthAdjust="spacingAndGlyphs">217</text>
<text class="n" x="440.9" y="323.7" textLength="14.2" lengthAdjust="spacingAndGlyphs">220</text>
<text class="n" x="454.1" y="332.4" textLength="14.2" lengthAdjust="spacingAndGlyphs">218</text>
<text class="n" x="467.1" y="340.4" textLength="14.2" lengthAdjust="spacingAndGlyphs">219</text>
<text class="n" x="481.1" y="348.7" textLength="14.2" lengthAdjust="spacingAndGlyphs">218</text>
<text class="n" x="495.1" y="356.9" textLength="14.2" lengthAdjust="spacingAndGlyphs">217</text>
<text class="n" x="546.1" y="354.2" textLength="14.2" lengthAdjust="spacingAndGlyphs">215</text>
<text class="n" x="520.1" y="367.6" textLength="14.2" lengthAdjust="spacingAndGlyphs">216</text>
<text class="n" x="461.1" y="357.9" textLength="14.2" lengthAdjust="spacingAndGlyphs">214</text>
<text class="n" x="386.8" y="359.2" textLength="14.2" lengthAdjust="spacingAndGlyphs">212</text>
<text class="n" x="412.1" y="372.8" textLength="14.2" lengthAdjust="spacingAndGlyphs">213</text>
<text class="n" x="424.1" y="386.4" textLength="14.2" lengthAdjust="spacingAndGlyphs">211</text>
<text class="n" x="560.1" y="320.9" textLength="14.2" lengthAdjust="spacingAndGlyphs">216</text>
<path class="g" d="M105.50,388.50 L113.70,389.70 L209.00,440.00 L188.70,469.00 L181.70,455.30 L143.00,459.40 L133.30,447.20 L158.60,433.40 L126.50,415.30 L100.80,441.00 L80.00,443.30 L67.70,439.80 L68.30,429.70 L99.70,422.30 L105.50,388.50" />
</svg>
</body></html>
